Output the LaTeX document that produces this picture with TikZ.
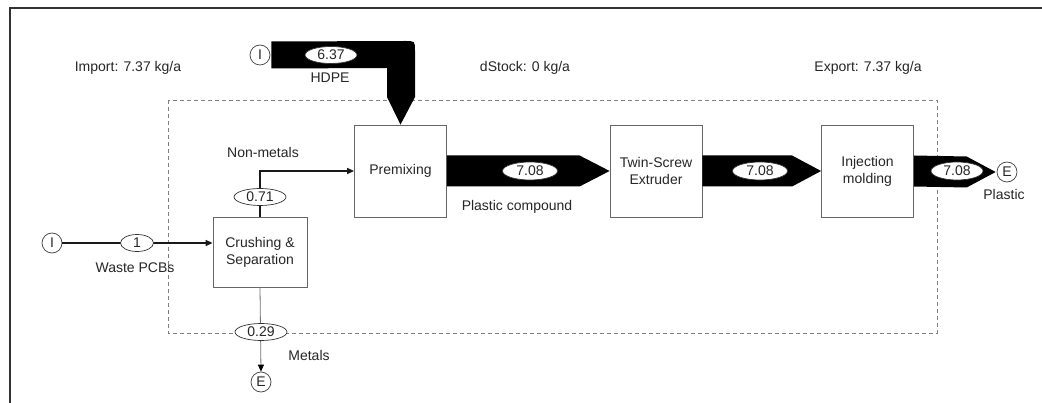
\documentclass[tikz,border=0pt]{standalone}
\usepackage{fontspec}
\setmainfont{Liberation Sans}
\usetikzlibrary{calc,arrows.meta,shapes.geometric}
\begin{document}
\begin{tikzpicture}[x=1pt,y=-1pt,
  font=\fontsize{14}{17}\selectfont,
  every node/.style={text=black!85},
  proc/.style={draw=black!60, line width=0.8pt, minimum width=92pt, minimum height=92pt, align=center, inner sep=0pt},
  val/.style={ellipse, draw=black!80, fill=white, line width=0.7pt, inner sep=0pt, minimum height=17pt, minimum width=52pt},
  term/.style={circle, draw=black!75, fill=white, line width=0.7pt, minimum size=20pt, inner sep=0pt},
  flowline/.style={line width=1.4pt, draw=black!90, -{Triangle[length=7pt,width=6pt]}},
  thinflow/.style={line width=0.8pt, draw=black!55, -{Triangle[length=7pt,width=6pt,color=black,fill=black]}},
  lbl/.style={inner sep=0pt}
]
\useasboundingbox (0,0) rectangle (1042,403);
\fill[white] (0,0) rectangle (1042,403);
% outer frame
\draw[line width=2pt, black!80] (10,403) -- (10,8) -- (1042,8);
% system boundary
\draw[black!50, line width=0.6pt, dash pattern=on 4pt off 3pt] (168,100) rectangle (937,333);

% processes
\node[proc] (prem) at (400.5,171) {Premixing};
\node[proc] (twin) at (656,171) {Twin-Screw\\Extruder};
\node[proc] (inj) at (867.5,171) {Injection\\molding};
\node[proc, minimum width=94pt, minimum height=70pt] (crush) at (260,252) {Crushing \&\\Separation};

% terminals
\node[term] (i1) at (52,243) {I};
\node[term] (i2) at (260,55) {I};
\node[term] (e1) at (261,382) {E};
\node[term] (e2) at (1007,172) {E};

% HDPE flow
\fill[black] ($(i2.east)+(1,-13.5)$) -- (405,41) .. controls (415,41) .. (415,51) -- (415,97) -- (prem.north) -- (387,97) -- (387,68) -- ($(i2.east)+(1,13.5)$) -- cycle;
\node[val] (v637) at (331,55) {6.37};
\node[lbl] (hdpe) at (330,78) {HDPE};

% plastic compound flows
\fill[black] ($(prem.east)+(0,-15.5)$) -- ($(twin.west)+(-30,-15.5)$) -- (twin.west) -- ($(twin.west)+(-30,15.5)$) -- ($(prem.east)+(0,15.5)$) -- cycle;
\fill[black] ($(twin.east)+(0,-15.5)$) -- ($(inj.west)+(-29,-15.5)$) -- (inj.west) -- ($(inj.west)+(-29,15.5)$) -- ($(twin.east)+(0,15.5)$) -- cycle;
\fill[black] ($(inj.east)+(0,-15.5)$) -- ($(e2.west)+(-30,-15.5)$) -- ($(e2.west)+(-1,0)$) -- ($(e2.west)+(-30,15.5)$) -- ($(inj.east)+(0,15.5)$) -- cycle;
\node[val, minimum width=55pt, minimum height=18pt] (v1) at (530,171) {7.08};
\node[val, minimum width=55pt, minimum height=18pt] (v2) at (760,171) {7.08};
\node[val, minimum width=52pt, minimum height=18pt] (v3) at (957,171) {7.08};
\node[lbl] (pc) at (517,207) {Plastic compound};
\node[lbl] (plastic) at (1004,194) {Plastic};

% waste PCBs
\draw[flowline] (i1.east) -- (i1.east -| crush.west);
\node[val, minimum width=33pt] (v1in) at (137,243) {1};
\node[lbl] (wp) at (135,268) {Waste PCBs};

% non-metals
\draw[flowline] (crush.north) |- (prem.west);
\node[val] (v071) at (260,197) {0.71};
\node[lbl] (nm) at (263,152) {Non-metals};

% metals
\draw[thinflow] (crush.south) -- (e1.north);
\node[val] (v029) at (261,332) {0.29};
\node[lbl] (met) at (309,355) {Metals};

% balance texts
\node[lbl] (imp) at (128,68) {Import: 7.37 kg/a};
\node[lbl] (dst) at (525,68) {dStock: 0 kg/a};
\node[lbl] (exp) at (868,68) {Export: 7.37 kg/a};
\end{tikzpicture}
\end{document}
